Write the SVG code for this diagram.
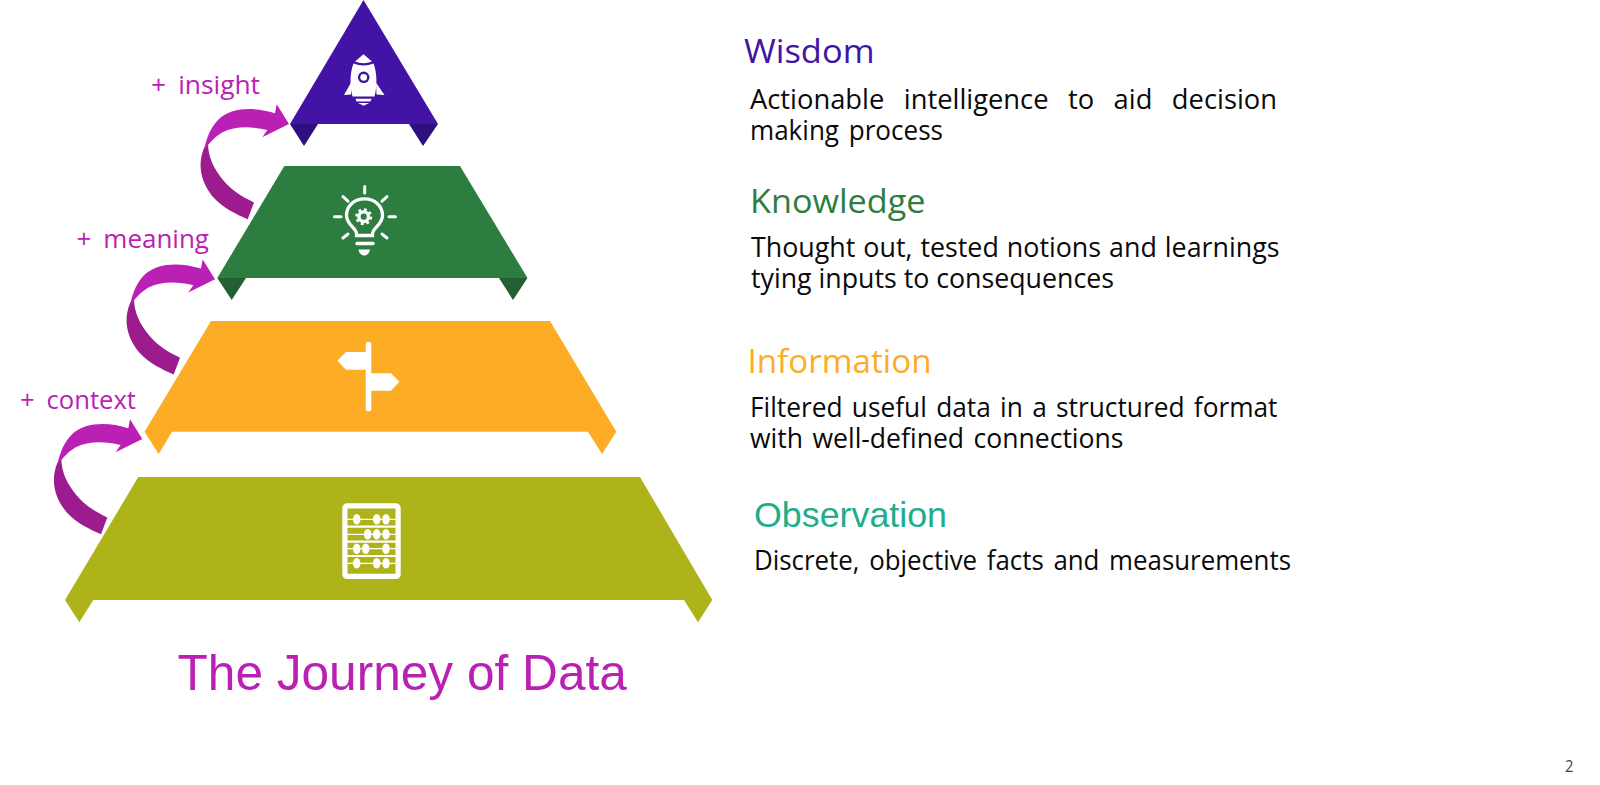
<svg xmlns="http://www.w3.org/2000/svg" xmlns:xlink="http://www.w3.org/1999/xlink" width="1600" height="785" viewBox="0 0 1600 785">
<style>
text{font-family:"Open Sans","Noto Sans","Liberation Sans",sans-serif}
.body{font-size:26.5px;fill:#0a0a0a}
.head{font-size:33px}
.lab{font-size:25px;fill:#bb20b5}
.ar{font-family:"Liberation Sans",Arial,sans-serif}
.w{fill:#fff}
.sw{stroke:#fff;fill:none;stroke-linecap:round}
</style>
<defs>
<g id="curl">
<path fill="#9c1c8f" d="M204,148C197,165 201,183 214,198C223,208 236,214 247.7,219.3L254,202.5C241,196 231,190 223,180C214,169 208,157 208,143Z"/>
<path fill="#bb20b5" d="M289,124L276.7,104.3L275,113.3C255,107 232,107 219,119C211,127 207,136 204,150C208,145 213,138 222,132.5C236,125.5 252,126.5 267.3,130L262.3,137.3Z"/>
</g>
</defs>
<rect width="1600" height="785" fill="#fff"/>

<g id="connectors">
<use xlink:href="#curl" href="#curl"/>
<use xlink:href="#curl" href="#curl" transform="translate(-74,155.3)"/>
<use xlink:href="#curl" href="#curl" transform="translate(-146.7,315)"/>
</g>

<g id="wisdom">
<path fill="#4213a4" d="M363.5,0L438,124H290Z"/>
<path fill="#2f0f80" d="M290,124L304,146L318,124Z"/>
<path fill="#2f0f80" d="M438,124L423,146L409,124Z"/>
<path class="w" d="M363.5,54.3L355,61.5Q363.5,65 372,61.5Z"/>
<path class="w" d="M353.5,63.5Q363.5,67.5 373.5,63.5C377,72 377.5,86 374.5,96.5H352.5C349.5,86 350,72 353.5,63.5Z"/>
<path class="w" d="M351,82.7L344,95L351,94.5ZM376,82.7L384.5,95L376.5,94.5Z"/>
<path class="w" d="M355.5,98.8H371.5L370.5,101.5H356.5ZM358,103H369.2L363.6,105.8Z"/>
<circle cx="363.7" cy="77.3" r="4.6" fill="#fff" stroke="#4213a4" stroke-width="2.4"/>
</g>

<g id="knowledge">
<path fill="#2e7d40" d="M284.3,166H460L527.5,278H217.3Z"/>
<path fill="#235f30" d="M217.3,278L231.7,300L246,278Z"/>
<path fill="#235f30" d="M527.5,278L513,300L499,278Z"/>
<g class="sw" stroke-width="3">
<path d="M364.7,186.5V193M334.5,216.7H341M389,216.7H395.5M343,196.7L348,201.2M382,201.2L387,196.7M343,238L348,234M382,234L387,238"/>
<path stroke-width="3.3" d="M356.5,234C356.5,227.5 346.5,225 346.5,215.5C346.5,205.5 354.5,198.8 364.5,198.8C374.5,198.8 382.5,205.5 382.5,215.5C382.5,225 372.5,227.5 372.5,234V235.5H356.5Z"/>
<path stroke-width="3.3" d="M357,243.5H373"/>
</g>
<path class="w" d="M358.5,249.5H370C369.5,253 367.2,255.5 364.3,255.5C361.3,255.5 359,253 358.5,249.5Z"/>
<circle cx="363.7" cy="216.7" r="4.8" fill="none" stroke="#fff" stroke-width="3.4"/>
<circle cx="363.7" cy="216.7" r="7" fill="none" stroke="#fff" stroke-width="3" stroke-dasharray="2.7 2.8"/>
</g>

<g id="information">
<path fill="#fdac25" d="M211,321H550L616.3,431.7L602,454L588,431.7H172L158.7,454L144.5,431.7Z"/>
<rect class="w" x="365.7" y="342" width="5.6" height="69.3" rx="2"/>
<path class="w" d="M337.3,360.7L346,352H366V369.7H346Z"/>
<path class="w" d="M371,373.3H391L399.3,381.7L391,390.7H371Z"/>
</g>

<g id="observation">
<path fill="#aeb31a" d="M138.3,477H640L712.3,600L698,622.3L684,600H93.3L79.3,622.3L65,600Z"/>
<rect x="344.9" y="505.9" width="53.2" height="70.5" rx="2" fill="none" stroke="#fff" stroke-width="5.2"/>
<path class="sw" stroke-width="2.2" style="stroke-linecap:butt" d="M347,526.7H396M347,541.7H396M347,556H396"/>
<path class="sw" stroke-width="1.2" style="stroke-linecap:butt" d="M347,519.3H396M347,534.3H396M347,548.7H396M347,563.3H396"/>
<g class="w">
<ellipse cx="356.7" cy="519.3" rx="3.8" ry="5.2"/><ellipse cx="376.7" cy="519.3" rx="3.8" ry="5.2"/><ellipse cx="386" cy="519.3" rx="3.8" ry="5.2"/>
<ellipse cx="367.7" cy="534.3" rx="3.8" ry="5.2"/><ellipse cx="376.7" cy="534.3" rx="3.8" ry="5.2"/><ellipse cx="386" cy="534.3" rx="3.8" ry="5.2"/>
<ellipse cx="356.7" cy="548.7" rx="3.8" ry="5.2"/><ellipse cx="365.7" cy="548.7" rx="3.8" ry="5.2"/><ellipse cx="386" cy="548.7" rx="3.8" ry="5.2"/>
<ellipse cx="356.7" cy="563.3" rx="3.8" ry="5.2"/><ellipse cx="376.7" cy="563.3" rx="3.8" ry="5.2"/><ellipse cx="386" cy="563.3" rx="3.8" ry="5.2"/>
</g>
</g>

<g id="labels">
<text class="lab" x="151" y="93.5" word-spacing="5" textLength="109" lengthAdjust="spacingAndGlyphs">+ insight</text>
<text class="lab" x="76.5" y="248" word-spacing="5" textLength="132.5" lengthAdjust="spacingAndGlyphs">+ meaning</text>
<text class="lab" x="20" y="409.3" word-spacing="5" textLength="116" lengthAdjust="spacingAndGlyphs">+ context</text>
<text class="ar" x="177.5" y="689.5" font-size="49.6" fill="#bb20b5">The Journey of Data</text>
</g>

<g id="descriptions">
<text class="head" x="744" y="63.3" fill="#4213a4" textLength="130.5" lengthAdjust="spacingAndGlyphs">Wisdom</text>
<text class="body" x="750" y="109.2" word-spacing="12" textLength="527" lengthAdjust="spacingAndGlyphs">Actionable intelligence to aid decision</text>
<text class="body" x="750" y="139.8" word-spacing="3" textLength="193" lengthAdjust="spacingAndGlyphs">making process</text>
<text class="head" x="750" y="213.2" fill="#2e7d40" textLength="175.5" lengthAdjust="spacingAndGlyphs">Knowledge</text>
<text class="body" x="751" y="257.1" word-spacing="1" textLength="528.5" lengthAdjust="spacingAndGlyphs">Thought out, tested notions and learnings</text>
<text class="body" x="751" y="287.7" textLength="363" lengthAdjust="spacingAndGlyphs">tying inputs to consequences</text>
<text class="head" x="747.5" y="373.4" fill="#fdac25" textLength="184" lengthAdjust="spacingAndGlyphs">Information</text>
<text class="body" x="750" y="417.3" word-spacing="2.5" textLength="527.5" lengthAdjust="spacingAndGlyphs">Filtered useful data in a structured format</text>
<text class="body" x="750" y="448" word-spacing="2.5" textLength="373.5" lengthAdjust="spacingAndGlyphs">with well-defined connections</text>
<text class="ar" x="754" y="526.5" font-size="35.8" fill="#22ad8a">Observation</text>
<text class="body" x="754" y="570.4" word-spacing="3" textLength="537" lengthAdjust="spacingAndGlyphs">Discrete, objective facts and measurements</text>
<text x="1565" y="771.5" font-size="15.5" fill="#444" textLength="8.5" lengthAdjust="spacingAndGlyphs">2</text>
</g>
</svg>
